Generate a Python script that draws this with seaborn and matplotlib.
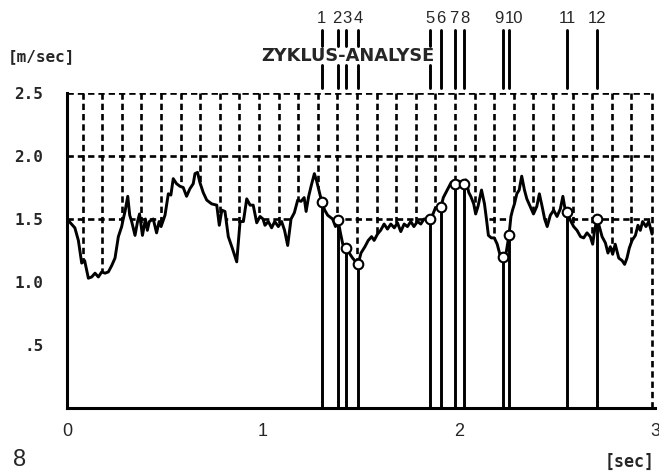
import matplotlib
matplotlib.use("Agg")
import matplotlib.pyplot as plt
import pandas as pd
import seaborn as sns

# velocity trace [s, m/s]
trace_t = [0.00, 0.04, 0.058, 0.075, 0.09, 0.109, 0.126, 0.143, 0.16, 0.177, 0.194, 0.211,
           0.228, 0.245, 0.262, 0.279, 0.287, 0.296, 0.31, 0.32, 0.33, 0.347, 0.36, 0.37,
           0.385, 0.40, 0.41, 0.42, 0.44, 0.457, 0.47, 0.48, 0.50, 0.517, 0.53, 0.542,
           0.559, 0.576, 0.593, 0.61, 0.627, 0.644, 0.653, 0.666, 0.678, 0.695, 0.713,
           0.738, 0.764, 0.777, 0.79, 0.806, 0.823, 0.843, 0.866, 0.883, 0.90, 0.917,
           0.934, 0.95, 0.968, 0.985, 1.00, 1.01, 1.027, 1.044, 1.06, 1.078, 1.095, 1.11,
           1.126, 1.143, 1.16, 1.177, 1.194, 1.21, 1.22, 1.233, 1.247, 1.262, 1.274, 1.285,
           1.315, 1.33, 1.355, 1.37, 1.395, 1.407, 1.44, 1.457, 1.50, 1.52, 1.537, 1.554,
           1.567, 1.584, 1.60, 1.618, 1.635, 1.652, 1.67, 1.686, 1.703, 1.72, 1.737, 1.754,
           1.77, 1.788, 1.805, 1.822, 1.865, 1.88, 1.92, 1.94, 1.96, 2.00, 2.035, 2.05,
           2.06, 2.075, 2.085, 2.097, 2.115, 2.13, 2.14, 2.15, 2.165, 2.18, 2.195, 2.207,
           2.215, 2.235, 2.265, 2.273, 2.283, 2.295, 2.307, 2.32, 2.334, 2.346, 2.363,
           2.38, 2.397, 2.41, 2.424, 2.437, 2.45, 2.466, 2.483, 2.50, 2.517, 2.53, 2.54,
           2.568, 2.585, 2.602, 2.62, 2.636, 2.653, 2.67, 2.682, 2.692, 2.716, 2.73,
           2.747, 2.76, 2.772, 2.784, 2.797, 2.815, 2.832, 2.845, 2.857, 2.869, 2.883,
           2.90, 2.913, 2.925, 2.937, 2.954, 2.968, 2.985]
trace_v = [1.50, 1.43, 1.33, 1.15, 1.17, 1.03, 1.04, 1.07, 1.04, 1.08, 1.07, 1.08,
           1.13, 1.19, 1.36, 1.44, 1.50, 1.56, 1.68, 1.53, 1.48, 1.37, 1.48, 1.54,
           1.37, 1.50, 1.41, 1.48, 1.50, 1.39, 1.48, 1.44, 1.53, 1.70, 1.69, 1.82,
           1.78, 1.76, 1.75, 1.68, 1.74, 1.78, 1.86, 1.87, 1.79, 1.71, 1.65,
           1.62, 1.61, 1.45, 1.57, 1.56, 1.36, 1.27, 1.16, 1.48, 1.48, 1.66,
           1.61, 1.61, 1.47, 1.52, 1.50, 1.45, 1.48, 1.43, 1.48, 1.44, 1.48, 1.41,
           1.29, 1.50, 1.55, 1.65, 1.64, 1.67, 1.56, 1.68, 1.77, 1.86, 1.80, 1.73,
           1.57, 1.53, 1.50, 1.44, 1.39, 1.30, 1.23, 1.19, 1.23, 1.28, 1.33, 1.36,
           1.33, 1.38, 1.41, 1.46, 1.42, 1.46, 1.43, 1.47, 1.40, 1.46, 1.44, 1.48,
           1.44, 1.48, 1.46, 1.50, 1.53, 1.59, 1.67, 1.73, 1.79, 1.80, 1.81, 1.71,
           1.68, 1.62, 1.54, 1.60, 1.73, 1.62, 1.50, 1.37, 1.35, 1.35, 1.30, 1.23,
           1.18, 1.18, 1.52, 1.57, 1.62, 1.70, 1.73, 1.84, 1.73, 1.66, 1.60,
           1.54, 1.60, 1.70, 1.60, 1.50, 1.44, 1.53, 1.57, 1.52, 1.58, 1.68, 1.59,
           1.49, 1.44, 1.41, 1.36, 1.35, 1.39, 1.36, 1.30, 1.41, 1.44, 1.36,
           1.31, 1.23, 1.28, 1.22, 1.30, 1.19, 1.17, 1.14, 1.19, 1.27, 1.33,
           1.37, 1.45, 1.41, 1.48, 1.44, 1.48, 1.38]

# detected cycle points
cycle_labels = ["1", "2", "3", "4", "5", "6", "7", "8", "9", "10", "11", "12"]
cycle_t = [1.300, 1.383, 1.423, 1.485, 1.850, 1.908, 1.978, 2.025, 2.225, 2.255, 2.553, 2.704]
cycle_v = [1.635, 1.49, 1.27, 1.14, 1.50, 1.595, 1.78, 1.78, 1.20, 1.37, 1.555, 1.50]

y_ticks = [0.5, 1.0, 1.5, 2.0, 2.5]
y_ticklabels = [".5", "1.0", "1.5", "2.0", "2.5"]
x_ticks = [0, 1, 2, 3]
x_ticklabels = ["0", "1", "2", "3"]
grid_h = [1.5, 2.0, 2.5]
grid_step = 0.1
grid_start = 0.08

sns.set_style("white")
plt.rcParams["font.family"] = ["DejaVu Sans"]

curve = pd.concat([pd.DataFrame({"t": trace_t, "v": trace_v}),
                   pd.DataFrame({"t": cycle_t, "v": cycle_v})]).sort_values("t")
t_end = curve["t"].max()

fig = plt.figure(figsize=(6.59, 4.73), dpi=100)
ax = fig.add_axes([67 / 659, 1 - 408 / 473, 588 / 659, 315 / 473])

ink = "black"
dash = (0, (2.4, 1.5))
lw_grid = 1.9
lw_line = 2.1

# dashed grid, later hidden below the curve
n_grid = int(round((t_end - grid_start) / grid_step))
grid_v = [grid_start + grid_step * k for k in range(n_grid)]
ax.vlines(grid_v, 0, 2.5, colors=ink, lw=lw_grid, linestyles=dash, zorder=1)
ax.hlines(grid_h, 0, t_end, colors=ink, lw=lw_grid, linestyles=dash, zorder=1)
ax.fill_between(curve["t"], 0, curve["v"], color="white", lw=0, zorder=2)
ax.vlines([t_end], 0, 2.5, colors=ink, lw=lw_grid, linestyles=dash, zorder=3)

# drop lines for the cycle points
ax.vlines(cycle_t, 0, cycle_v, colors=ink, lw=lw_line, zorder=3)

sns.lineplot(data=curve, x="t", y="v", ax=ax, color=ink, lw=lw_line, sort=False,
             estimator=None, zorder=4)
sns.scatterplot(x=cycle_t, y=cycle_v, ax=ax, s=48, marker="o", facecolor="white",
                edgecolor=ink, linewidth=1.5, zorder=5)

ax.set_xlim(0, 3)
ax.set_ylim(0, 2.5)
ax.set_xlabel("")
ax.set_ylabel("")
ax.set_xticks(x_ticks)
ax.set_xticklabels(x_ticklabels, fontsize=13, family="Liberation Sans")
ax.set_yticks(y_ticks)
ax.set_yticklabels(y_ticklabels, fontsize=11.5, family="DejaVu Sans Mono", fontweight="bold")
ax.tick_params(axis="x", length=0, pad=11)
ax.tick_params(axis="y", length=0, pad=17)
for side in ("top", "right"):
    ax.spines[side].set_visible(False)
for side in ("left", "bottom"):
    ax.spines[side].set_linewidth(2.2)
    ax.spines[side].set_color(ink)

# header with cycle numbers
xt = ax.get_xaxis_transform()
title = ax.text(1.434, 1.117, "ZYKLUS-ANALYSE", transform=xt, ha="center", va="center",
                fontsize=12.8, fontweight="bold", family="DejaVu Sans")
labels = [ax.text(t, 1.238, lab, transform=xt, ha="center", va="center", fontsize=12,
                  family="Liberation Sans") for lab, t in zip(cycle_labels, cycle_t)]
fig.canvas.draw()
renderer = fig.canvas.get_renderer()
bb = title.get_window_extent(renderer).transformed(ax.transData.inverted())

# spread crowded numbers apart so neighbours do not collide
to_px = ax.transData.transform
from_px = ax.transData.inverted().transform
pos = [to_px((t, 0))[0] for t in cycle_t]
half = [lab.get_window_extent(renderer).width / 2 for lab in labels]
for _ in range(60):
    for i in range(len(pos) - 1):
        need = half[i] + half[i + 1] + 1.0
        gap = pos[i + 1] - pos[i]
        if gap < need:
            d = (need - gap) / 2
            pos[i] -= d
            pos[i + 1] += d
for lab, p in zip(labels, pos):
    lab.set_x(from_px((p, 0))[0])

for t in cycle_t:
    if bb.x0 <= t <= bb.x1:
        ax.plot([t, t], [1.149, 1.2], transform=xt, color=ink, lw=lw_line, clip_on=False)
        ax.plot([t, t], [1.016, 1.089], transform=xt, color=ink, lw=lw_line, clip_on=False)
    else:
        ax.plot([t, t], [1.016, 1.2], transform=xt, color=ink, lw=lw_line, clip_on=False)

fig.text(8 / 659, 1 - 57 / 473, "[m/sec]", ha="left", va="center", fontsize=11.5,
         family="DejaVu Sans Mono", fontweight="bold")
fig.text(655 / 659, 1 - 462 / 473, "[sec]", ha="right", va="center", fontsize=12,
         family="DejaVu Sans Mono", fontweight="bold")
fig.text(13 / 659, 1 - 460 / 473, "8", ha="left", va="center", fontsize=17,
         family="Liberation Sans")

fig.savefig("out.png", dpi=100)
